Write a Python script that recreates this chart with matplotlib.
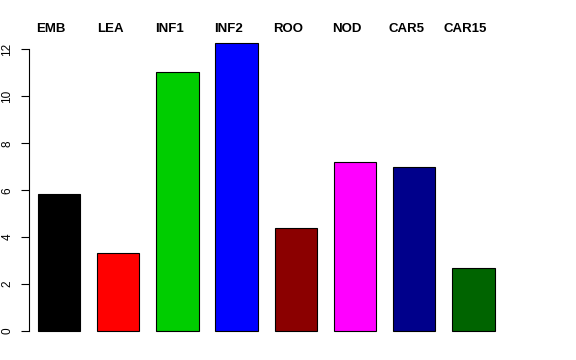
import matplotlib
matplotlib.use("Agg")
import matplotlib.pyplot as plt
import numpy as np

categories = ["EMB", "LEA", "INF1", "INF2", "ROO", "NOD", "CAR5", "CAR15"]
values = [5.82, 3.32, 11.04, 12.28, 4.37, 7.20, 6.99, 2.69]
colors = ["#000000", "#FF0000", "#00CD00", "#0000FF", "#8B0000", "#FF00FF", "#00008B", "#006400"]
yticks = [0, 2, 4, 6, 8, 10, 12]

plt.rcParams['font.family'] = ['Liberation Sans', 'DejaVu Sans']

fig = plt.figure(figsize=(5.76, 3.6), dpi=100)
ax = fig.add_axes([29/576, 1 - 342.5/360, (503.4-29)/576, (342.5-31.4)/360])

x = np.arange(len(categories))
ax.bar(x, values, width=0.714, color=colors, edgecolor="black", linewidth=0.8)
ax.set_xlim(-0.507, 7.507)
ax.set_ylim(-0.49, 12.77)

for s in ["top", "right", "bottom"]:
    ax.spines[s].set_visible(False)
ax.spines["left"].set_bounds(0, 12)
ax.spines["left"].set_linewidth(0.8)
ax.set_xticks([])
ax.set_yticks(yticks)
ax.set_yticklabels([str(t) for t in yticks], rotation=90, va="center", fontsize=8.5)
ax.tick_params(axis="y", length=5.8, width=0.8, pad=5.5)

for xi, lab in zip(x, categories):
    ax.text(xi - 0.135, 12.77 + (31.4 - 29.3) / 23.46, lab, ha="center", va="center",
            fontsize=9.5, fontweight="bold", clip_on=False)

fig.savefig("out.png", dpi=100)
